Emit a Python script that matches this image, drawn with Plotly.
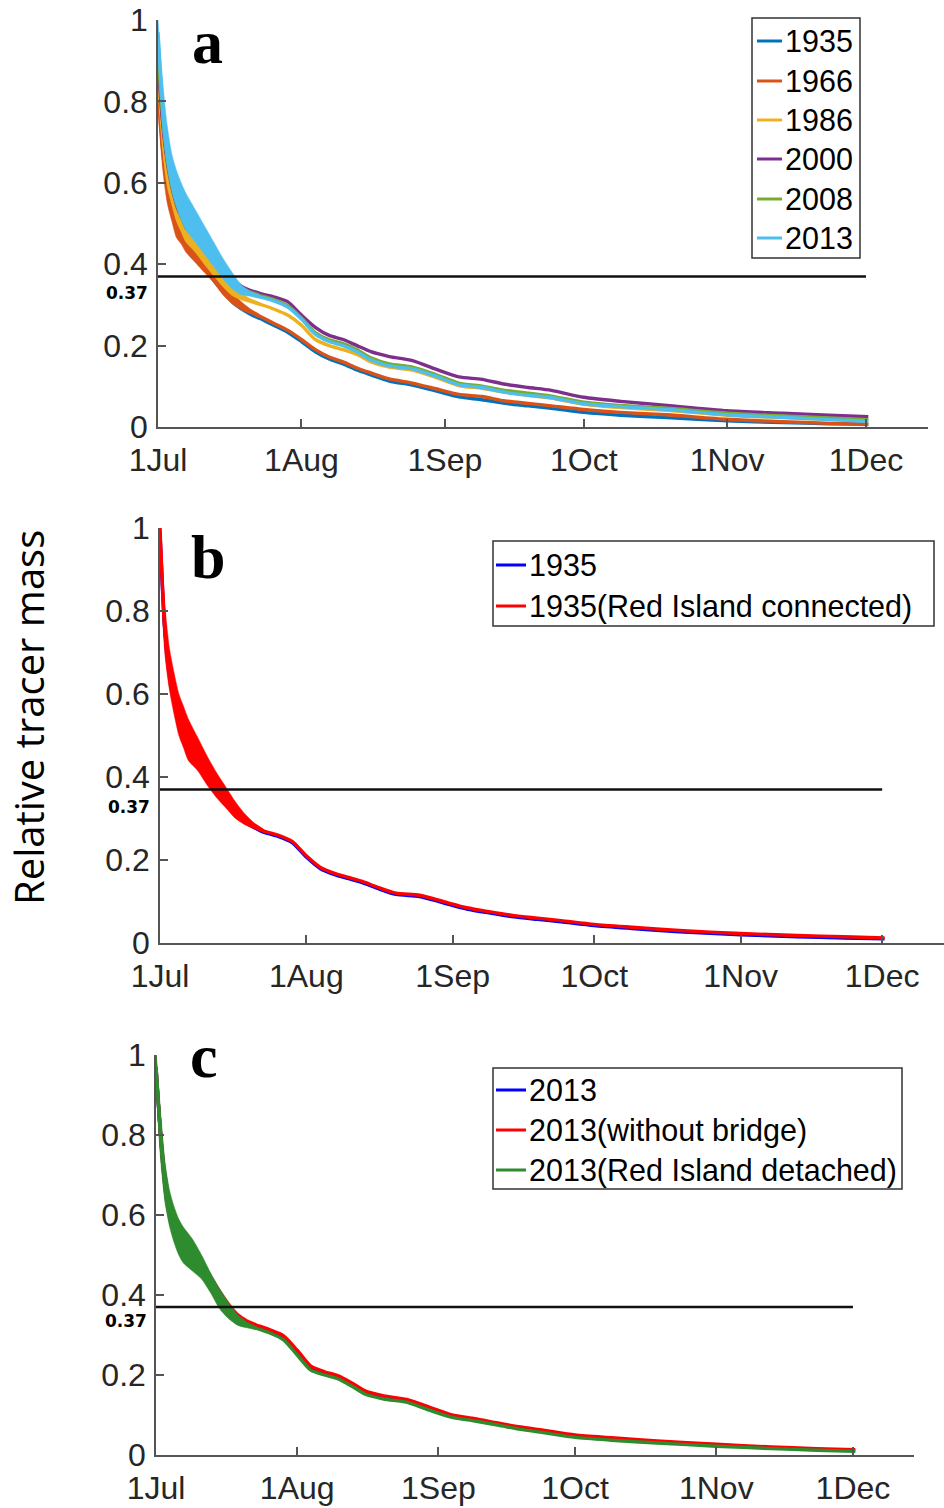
import plotly.graph_objects as go

W, H = 944, 1508

# ---------------- data ----------------
days = [0, 1, 2, 3, 4, 5, 6, 8, 10, 12, 14, 16, 18, 20, 22, 25, 28, 31, 34, 37, 40,
        43, 46, 50, 55, 60, 65, 70, 75, 80, 85, 92, 100, 110, 123, 135, 145, 153.5]
early_days = days[:15]
tick_days = [0, 31, 62, 92, 123, 153]
tick_labels = ["1Jul", "1Aug", "1Sep", "1Oct", "1Nov", "1Dec"]
ytick_vals = [0, 0.2, 0.4, 0.6, 0.8, 1]
ytick_text = ["0", "0.2", "0.4", "0.6", "0.8", "1"]
threshold = 0.37
threshold_end = 153

# panel a
a_1935 = [0.86, 0.69, 0.60, 0.545, 0.505, 0.48, 0.46, 0.43, 0.40, 0.37, 0.34, 0.313, 0.293, 0.278, 0.267,
          0.25, 0.233, 0.21, 0.185, 0.167, 0.155, 0.14, 0.128, 0.113, 0.103, 0.089, 0.074, 0.067, 0.058,
          0.052, 0.046, 0.036, 0.029, 0.023, 0.015, 0.011, 0.008, 0.007]
a_1966 = [0.82, 0.68, 0.59, 0.54, 0.50, 0.48, 0.46, 0.43, 0.405, 0.375, 0.345, 0.318, 0.298, 0.284, 0.272,
          0.255, 0.238, 0.215, 0.19, 0.172, 0.16, 0.145, 0.133, 0.118, 0.108, 0.094, 0.08, 0.075, 0.064,
          0.058, 0.052, 0.043, 0.036, 0.030, 0.019, 0.013, 0.009, 0.006]
a_1986 = [0.88, 0.72, 0.62, 0.57, 0.53, 0.505, 0.48, 0.45, 0.42, 0.39, 0.36, 0.335, 0.32, 0.31, 0.302,
          0.29, 0.275, 0.25, 0.215, 0.20, 0.19, 0.178, 0.16, 0.147, 0.14, 0.122, 0.102, 0.095, 0.085,
          0.078, 0.071, 0.056, 0.048, 0.041, 0.029, 0.023, 0.018, 0.015]
a_2000 = [0.90, 0.75, 0.66, 0.60, 0.56, 0.535, 0.51, 0.485, 0.46, 0.43, 0.39, 0.36, 0.342, 0.334, 0.328,
          0.32, 0.308, 0.275, 0.245, 0.225, 0.215, 0.20, 0.185, 0.173, 0.163, 0.142, 0.123, 0.117, 0.105,
          0.097, 0.09, 0.073, 0.063, 0.053, 0.040, 0.034, 0.029, 0.025]
a_2008 = [0.92, 0.77, 0.67, 0.61, 0.57, 0.54, 0.515, 0.485, 0.455, 0.42, 0.385, 0.357, 0.338, 0.33, 0.323,
          0.313, 0.298, 0.268, 0.232, 0.214, 0.205, 0.19, 0.17, 0.155, 0.147, 0.129, 0.108, 0.10, 0.09,
          0.083, 0.076, 0.061, 0.053, 0.046, 0.034, 0.027, 0.022, 0.018]
a_2013 = [0.97, 0.79, 0.69, 0.625, 0.585, 0.555, 0.53, 0.495, 0.46, 0.425, 0.39, 0.36, 0.337, 0.327, 0.32,
          0.31, 0.295, 0.265, 0.228, 0.21, 0.20, 0.185, 0.165, 0.15, 0.143, 0.125, 0.104, 0.097, 0.085,
          0.078, 0.072, 0.057, 0.05, 0.043, 0.030, 0.024, 0.018, 0.014]
# tidal band half-widths over the first three weeks
amp_a_1935 = [0.02, 0.03, 0.025, 0.02, 0.02, 0.02, 0.02, 0.018, 0.015, 0.015, 0.012, 0.01, 0.007, 0.005, 0.003]
amp_a_1966 = [0.03, 0.045, 0.04, 0.035, 0.035, 0.03, 0.03, 0.025, 0.025, 0.02, 0.02, 0.015, 0.01, 0.006, 0.003]
amp_a_1986 = [0.02, 0.035, 0.03, 0.025, 0.025, 0.025, 0.025, 0.02, 0.02, 0.018, 0.015, 0.012, 0.008, 0.005, 0.003]
amp_a_2000 = [0.02, 0.035, 0.03, 0.025, 0.025, 0.025, 0.025, 0.02, 0.02, 0.018, 0.015, 0.012, 0.008, 0.005, 0.003]
amp_a_2008 = [0.02, 0.04, 0.035, 0.03, 0.03, 0.03, 0.03, 0.025, 0.02, 0.02, 0.015, 0.012, 0.008, 0.005, 0.003]
amp_a_2013 = [0.03, 0.06, 0.05, 0.045, 0.045, 0.045, 0.045, 0.04, 0.035, 0.03, 0.025, 0.02, 0.012, 0.006, 0.003]

# panel b
b_1935 = [0.99, 0.755, 0.655, 0.595, 0.545, 0.515, 0.485, 0.452, 0.412, 0.377, 0.347, 0.317, 0.295, 0.279, 0.267,
          0.257, 0.242, 0.207, 0.179, 0.165, 0.155, 0.145, 0.132, 0.117, 0.112, 0.097, 0.082, 0.072, 0.063,
          0.057, 0.051, 0.042, 0.035, 0.027, 0.020, 0.015, 0.012, 0.010]
b_1935_ric = [1.0, 0.76, 0.66, 0.60, 0.55, 0.52, 0.49, 0.455, 0.415, 0.38, 0.35, 0.32, 0.298, 0.282, 0.27,
              0.26, 0.245, 0.21, 0.182, 0.168, 0.158, 0.148, 0.135, 0.12, 0.115, 0.10, 0.085, 0.075, 0.066,
              0.06, 0.054, 0.045, 0.038, 0.030, 0.023, 0.018, 0.015, 0.012]
amp_b_1935 = [0.03, 0.04, 0.035, 0.03, 0.03, 0.03, 0.03, 0.025, 0.02, 0.02, 0.015, 0.012, 0.008, 0.005, 0.003]
amp_b_1935_ric = [0.05, 0.06, 0.05, 0.05, 0.05, 0.05, 0.05, 0.04, 0.035, 0.03, 0.025, 0.02, 0.013, 0.007, 0.003]

# panel c
c_2013 = [0.97, 0.80, 0.68, 0.615, 0.575, 0.545, 0.525, 0.50, 0.47, 0.431, 0.392, 0.363, 0.341, 0.329, 0.321,
          0.309, 0.293, 0.256, 0.217, 0.204, 0.194, 0.176, 0.156, 0.144, 0.136, 0.116, 0.097, 0.088, 0.078,
          0.067, 0.059, 0.047, 0.04, 0.033, 0.025, 0.018, 0.014, 0.011]
c_2013_nobridge = [0.97, 0.80, 0.68, 0.615, 0.575, 0.545, 0.525, 0.50, 0.47, 0.432, 0.395, 0.367, 0.345, 0.333, 0.325,
                   0.313, 0.298, 0.262, 0.222, 0.208, 0.198, 0.18, 0.16, 0.148, 0.139, 0.12, 0.10, 0.091, 0.08,
                   0.07, 0.062, 0.05, 0.043, 0.035, 0.027, 0.02, 0.016, 0.013]
c_2013_detached = [0.97, 0.80, 0.68, 0.615, 0.575, 0.545, 0.525, 0.50, 0.47, 0.43, 0.39, 0.36, 0.337, 0.325, 0.317,
                   0.305, 0.288, 0.25, 0.212, 0.20, 0.19, 0.172, 0.152, 0.14, 0.132, 0.112, 0.094, 0.085, 0.075,
                   0.064, 0.056, 0.044, 0.037, 0.03, 0.022, 0.016, 0.012, 0.009]
amp_c_2013 = [0.03, 0.045, 0.04, 0.035, 0.035, 0.035, 0.035, 0.03, 0.025, 0.02, 0.02, 0.015, 0.01, 0.006, 0.003]
amp_c_2013_nobridge = [0.03, 0.045, 0.04, 0.035, 0.035, 0.035, 0.035, 0.03, 0.025, 0.02, 0.02, 0.015, 0.01, 0.006, 0.003]
amp_c_2013_detached = [0.04, 0.06, 0.05, 0.045, 0.045, 0.045, 0.045, 0.04, 0.03, 0.025, 0.025, 0.02, 0.013, 0.007, 0.003]

labels_a = ["1935", "1966", "1986", "2000", "2008", "2013"]
labels_b = ["1935", "1935(Red Island connected)"]
labels_c = ["2013", "2013(without bridge)", "2013(Red Island detached)"]

# ---------------- styling ----------------
colors_a = ["#0072BD", "#D95319", "#EDB120", "#7E2F8E", "#77AC30", "#4DBEEE"]
colors_b = ["#0000FF", "#FF0000"]
colors_c = ["#0000FF", "#FF0000", "#2E8B2E"]

FONT = "Liberation Sans"
TXT = "#262626"
AX = "#555555"


def px(x):
    return x / W


def py(y):
    return 1 - y / H


# panel geometry in pixels: left, right, top(y=1), bottom(y=0), x-range max
panels = [
    dict(x0=158, x1=928, yt=20, yb=427, xmax=166.4),
    dict(x0=160, x1=944, yt=528, yb=943, xmax=166.1),
    dict(x0=156, x1=914, yt=1055, yb=1455, xmax=166.4),
]

fig = go.Figure()


def add_series(k, vals, amps, color):
    xa = "x" if k == 0 else f"x{k+1}"
    ya = "y" if k == 0 else f"y{k+1}"
    n = len(early_days)
    upper = [v + a for v, a in zip(vals[:n], amps)]
    lower = [v - a for v, a in zip(vals[:n], amps)]
    fig.add_trace(go.Scatter(
        x=list(early_days) + list(early_days[::-1]),
        y=upper + lower[::-1],
        fill="toself", fillcolor=color, mode="lines",
        line=dict(width=0.5, color=color, shape="spline", smoothing=0.7), hoverinfo="skip",
        showlegend=False, xaxis=xa, yaxis=ya))
    fig.add_trace(go.Scatter(
        x=days, y=vals, mode="lines",
        line=dict(color=color, width=3.4, shape="spline", smoothing=0.7),
        showlegend=False, xaxis=xa, yaxis=ya))


series_a = [a_1935, a_1966, a_1986, a_2000, a_2008, a_2013]
amps_a = [amp_a_1935, amp_a_1966, amp_a_1986, amp_a_2000, amp_a_2008, amp_a_2013]
for v, a, c in zip(series_a, amps_a, colors_a):
    add_series(0, v, a, c)

for v, a, c in zip([b_1935, b_1935_ric], [amp_b_1935, amp_b_1935_ric], colors_b):
    add_series(1, v, a, c)

for v, a, c in zip([c_2013, c_2013_nobridge, c_2013_detached],
                   [amp_c_2013, amp_c_2013_nobridge, amp_c_2013_detached], colors_c):
    add_series(2, v, a, c)

# threshold lines
for k in range(3):
    xa = "x" if k == 0 else f"x{k+1}"
    ya = "y" if k == 0 else f"y{k+1}"
    fig.add_trace(go.Scatter(x=[0, threshold_end], y=[threshold, threshold], mode="lines",
                             line=dict(color="#111111", width=2.5), showlegend=False,
                             hoverinfo="skip", xaxis=xa, yaxis=ya))

layout = dict(
    width=W, height=H, margin=dict(l=0, r=0, t=0, b=0, autoexpand=False),
    paper_bgcolor="white", plot_bgcolor="white", showlegend=False,
)
for k, p in enumerate(panels):
    xs = "xaxis" if k == 0 else f"xaxis{k+1}"
    ys = "yaxis" if k == 0 else f"yaxis{k+1}"
    yname = "y" if k == 0 else f"y{k+1}"
    xname = "x" if k == 0 else f"x{k+1}"
    layout[xs] = dict(
        domain=[px(p["x0"]), px(p["x1"])], anchor=yname, range=[0, p["xmax"]],
        tickmode="array", tickvals=tick_days, ticktext=tick_labels,
        ticks="inside", ticklen=8, tickwidth=1.5, tickcolor=AX, automargin=False,
        showline=True, linecolor=AX, linewidth=1.5, showgrid=False, zeroline=False,
        tickfont=dict(family=FONT, size=32, color=TXT), ticklabelstandoff=4,
    )
    layout[ys] = dict(
        domain=[py(p["yb"]), py(p["yt"])], anchor=xname, range=[0, 1],
        tickmode="array", tickvals=ytick_vals, ticktext=ytick_text,
        ticks="inside", ticklen=8, tickwidth=1.5, tickcolor=AX, automargin=False,
        showline=True, linecolor=AX, linewidth=1.5, showgrid=False, zeroline=False,
        tickfont=dict(family=FONT, size=32, color=TXT), ticklabelstandoff=2,
    )
fig.update_layout(**layout)

annotations = []
shapes = []

# 0.37 labels
for yy, xx in [(293, 127), (807, 129), (1321, 126)]:
    annotations.append(dict(x=px(xx), y=py(yy), xref="paper", yref="paper", text="<b>0.37</b>",
                            showarrow=False, xanchor="center", yanchor="middle",
                            font=dict(family="DejaVu Sans", size=17, color="black")))

# panel letters
for letter, xx, yy in [("a", 207, 42), ("b", 208, 557), ("c", 204, 1056)]:
    annotations.append(dict(x=px(xx), y=py(yy), xref="paper", yref="paper", text=f"<b>{letter}</b>",
                            showarrow=False, xanchor="center", yanchor="middle",
                            font=dict(family="Liberation Serif", size=62, color="black")))

# y title
annotations.append(dict(x=px(28), y=py(718), xref="paper", yref="paper", text="Relative tracer mass",
                        showarrow=False, textangle=-90, xanchor="center", yanchor="middle",
                        font=dict(family="Open Sans", size=40, color="black")))


def legend(box, rows, labels, colors, line_x):
    x0, y0, x1, y1 = box
    shapes.append(dict(type="rect", xref="paper", yref="paper", x0=px(x0), x1=px(x1),
                       y0=py(y1), y1=py(y0), line=dict(color="#333333", width=1.5),
                       fillcolor="white", layer="above"))
    for yy, lab, col in zip(rows, labels, colors):
        shapes.append(dict(type="line", xref="paper", yref="paper", x0=px(line_x[0]), x1=px(line_x[1]),
                           y0=py(yy), y1=py(yy), line=dict(color=col, width=3), layer="above"))
        annotations.append(dict(x=px(line_x[1] + 1), y=py(yy), xref="paper", yref="paper", text=lab,
                                showarrow=False, xanchor="left", yanchor="middle",
                                font=dict(family=FONT, size=30.5, color="black")))


legend((752, 18, 860, 258), [41, 81, 120, 159, 199, 238], labels_a, colors_a, (757, 782))
legend((493, 541, 934, 626), [565, 606], labels_b, colors_b, (496, 526))
legend((493, 1068, 902, 1189), [1090, 1130, 1170], labels_c, colors_c, (496, 526))

fig.update_layout(annotations=annotations, shapes=shapes)
fig.write_html("out.html")
